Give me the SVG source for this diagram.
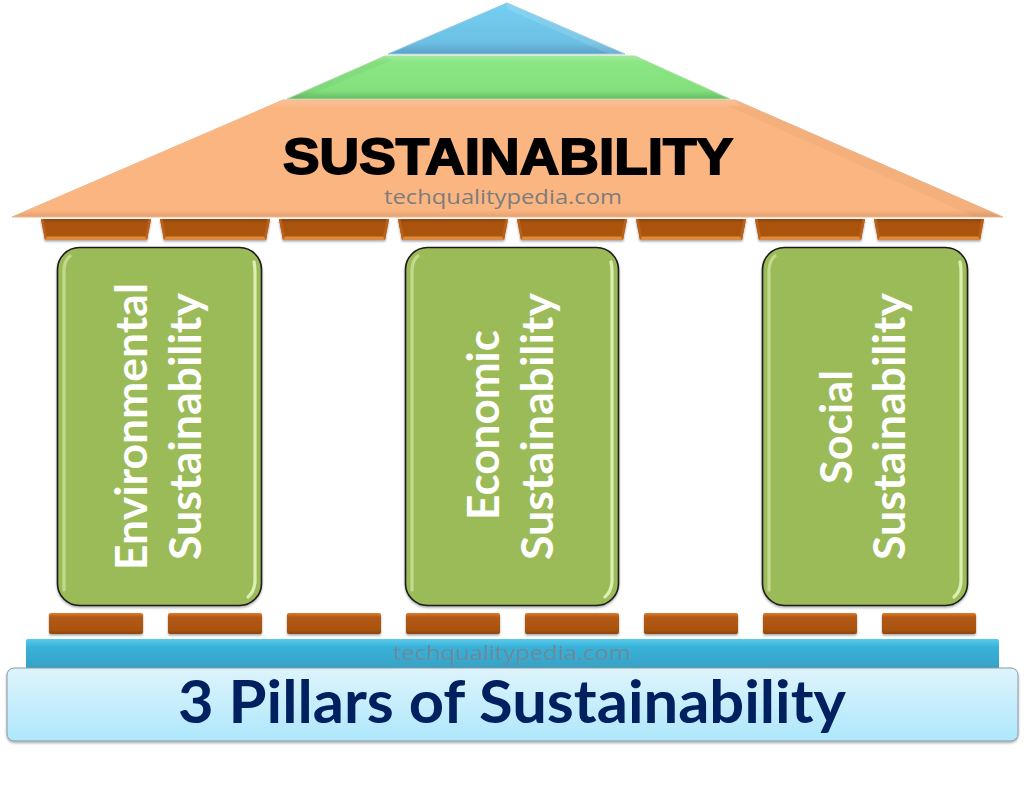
<svg xmlns="http://www.w3.org/2000/svg" width="1024" height="790" viewBox="0 0 1024 790">
<style>
.pill{fill:#9bbb59;stroke:#1a1a1a;stroke-width:1.6;filter:url(#sh)}
.hl{fill:none;stroke:#dcefb0;stroke-width:3.2;stroke-linecap:round;filter:url(#soft)}
.hl2{fill:none;stroke:#c2d98e;stroke-width:3.2;stroke-linecap:round;filter:url(#soft)}
.pt{font-family:Lato,"Liberation Sans",sans-serif;font-weight:700;font-size:43px;fill:#fff}
.wm{font-family:"Open Sans","Noto Sans",sans-serif;font-size:20px}
.rb{filter:url(#sh)}
.edge{fill:#fff;opacity:.12}
.edgeD{fill:#000;opacity:.03}
</style>
<defs>
<linearGradient id="brick" x1="0" y1="0" x2="0" y2="1"><stop offset="0" stop-color="#dd7d2e"/><stop offset=".2" stop-color="#b25a14"/><stop offset=".82" stop-color="#a85210"/><stop offset="1" stop-color="#8e4508"/></linearGradient>
<linearGradient id="tbrick" x1="0" y1="0" x2="0" y2="1"><stop offset="0" stop-color="#8f4507"/><stop offset=".2" stop-color="#a9530f"/><stop offset="1" stop-color="#ab5410"/></linearGradient>
<linearGradient id="org" x1="0" y1="0" x2="0" y2="1"><stop offset="0" stop-color="#f9c096"/><stop offset=".07" stop-color="#fbb581"/><stop offset=".94" stop-color="#fbb581"/><stop offset="1" stop-color="#e2a072"/></linearGradient>
<linearGradient id="grn" x1="0" y1="0" x2="0" y2="1"><stop offset="0" stop-color="#a0ec9a"/><stop offset=".15" stop-color="#8ae583"/><stop offset=".8" stop-color="#84e07d"/><stop offset="1" stop-color="#66bb66"/></linearGradient>
<linearGradient id="blu" x1="0" y1="0" x2="0" y2="1"><stop offset="0" stop-color="#74cff2"/><stop offset=".78" stop-color="#6cc0e3"/><stop offset="1" stop-color="#5d9fc6"/></linearGradient>
<linearGradient id="band" x1="0" y1="0" x2="0" y2="1"><stop offset="0" stop-color="#5acbea"/><stop offset=".25" stop-color="#38b2da"/><stop offset="1" stop-color="#379fc2"/></linearGradient>
<linearGradient id="base" x1="0" y1="0" x2="0" y2="1"><stop offset="0" stop-color="#def4fc"/><stop offset="1" stop-color="#aee7fc"/></linearGradient>
<filter id="sh" x="-10%" y="-20%" width="120%" height="150%"><feDropShadow dx="0" dy="1.5" stdDeviation="1.2" flood-color="#000" flood-opacity=".35"/></filter>
<filter id="soft" x="-300%" y="-10%" width="700%" height="120%"><feGaussianBlur stdDeviation=".6"/></filter>
<g id="tb"><path d="M0 0H110L106 21H4Z" fill="url(#tbrick)"/><path d="M3.200 17.500H106.800L106 21H4Z" fill="#dd8a3c"/><path d="M0 0L4 21L6 17.500L2.500 0Z" fill="#b9601a"/><path d="M110 0L106 21L104 17.500L107.500 0Z" fill="#b9601a"/></g>
<rect id="bb" width="94" height="21" rx="2" fill="url(#brick)"/>
</defs>
<rect width="1024" height="790" fill="#fff"/>
<g id="connectors"/>
<g id="roof-top"><path d="M507 3L625 54H388Z" fill="url(#blu)" stroke="#94c8de" stroke-width="1"/><path class="edge" d="M507 3L625 54H609L507 9Z"/></g>
<g id="roof-middle"><path d="M385 56H635L730 99H287Z" fill="url(#grn)" stroke="#aadfa4" stroke-width="1"/><path class="edgeD" d="M385 56L287 99H300L392 60Z"/></g>
<g id="roof-main"><path d="M283 100H735L1003 217H12Z" fill="url(#org)" stroke="#eeb78e" stroke-width="1"/><path class="edgeD" d="M735 100L1003 217H975L728 106H740Z"/>
<text x="508" y="174" font-family="Liberation Sans,Arial,sans-serif" font-weight="700" font-size="50" fill="#000" stroke="#000" stroke-width="1.8" textLength="450" lengthAdjust="spacingAndGlyphs" text-anchor="middle">SUSTAINABILITY</text>
<text class="wm" x="503" y="204" fill="#7d7d7d" textLength="238" lengthAdjust="spacingAndGlyphs" text-anchor="middle">techqualitypedia.com</text></g>
<g id="top-bricks">
<use href="#tb" x="41" y="219" class="rb"/><use href="#tb" x="160" y="219" class="rb"/><use href="#tb" x="279" y="219" class="rb"/><use href="#tb" x="398" y="219" class="rb"/><use href="#tb" x="517" y="219" class="rb"/><use href="#tb" x="636" y="219" class="rb"/><use href="#tb" x="755" y="219" class="rb"/><use href="#tb" x="874" y="219" class="rb"/>
</g>
<g id="pillar-environmental"><rect class="pill" x="57.500" y="247.500" width="204" height="358" rx="22"/>
<path class="hl2" d="M64 590V270Q64.500 260 70 256"/><path class="hl" d="M254 262Q255 266 255 272V582Q254 592 248 597"/>
<text class="pt" transform="translate(147 570) rotate(-90)" textLength="287" lengthAdjust="spacingAndGlyphs">Environmental</text>
<text class="pt" transform="translate(201 560) rotate(-90)" textLength="267" lengthAdjust="spacingAndGlyphs">Sustainability</text></g>
<g id="pillar-economic"><rect class="pill" x="405.500" y="247.500" width="213" height="358" rx="22"/>
<path class="hl2" d="M412 590V270Q412.500 260 418 256"/><path class="hl" d="M611 262Q612 266 612 272V582Q611 592 605 597"/>
<text class="pt" transform="translate(499 520) rotate(-90)" textLength="190" lengthAdjust="spacingAndGlyphs">Economic</text>
<text class="pt" transform="translate(553 560) rotate(-90)" textLength="267" lengthAdjust="spacingAndGlyphs">Sustainability</text></g>
<g id="pillar-social"><rect class="pill" x="762.500" y="247.500" width="205" height="358" rx="22"/>
<path class="hl2" d="M769 590V270Q769.500 260 775 256"/><path class="hl" d="M960 262Q961 266 961 272V582Q960 592 954 597"/>
<text class="pt" transform="translate(852 484) rotate(-90)" textLength="114" lengthAdjust="spacingAndGlyphs">Social</text>
<text class="pt" transform="translate(905 560) rotate(-90)" textLength="267" lengthAdjust="spacingAndGlyphs">Sustainability</text></g>
<g id="bottom-bricks">
<use href="#bb" x="49" y="613" class="rb"/><use href="#bb" x="168" y="613" class="rb"/><use href="#bb" x="287" y="613" class="rb"/><use href="#bb" x="406" y="613" class="rb"/><use href="#bb" x="525" y="613" class="rb"/><use href="#bb" x="644" y="613" class="rb"/><use href="#bb" x="763" y="613" class="rb"/><use href="#bb" x="882" y="613" class="rb"/>
</g>
<g id="base-band"><rect x="26" y="639" width="973" height="32" rx="2" fill="url(#band)"/>
<text class="wm" x="512" y="660" fill="#6b8c9c" textLength="238" lengthAdjust="spacingAndGlyphs" text-anchor="middle">techqualitypedia.com</text></g>
<g id="base-title"><rect x="7" y="668" width="1011" height="73" rx="7" fill="url(#base)" stroke="#8a9aa0" stroke-width="1" filter="url(#sh)"/>
<text x="512" y="723" font-family="Lato,Liberation Sans,sans-serif" font-weight="700" font-size="60" fill="#002060" textLength="668" lengthAdjust="spacingAndGlyphs" text-anchor="middle">3 Pillars of Sustainability</text></g>
</svg>
